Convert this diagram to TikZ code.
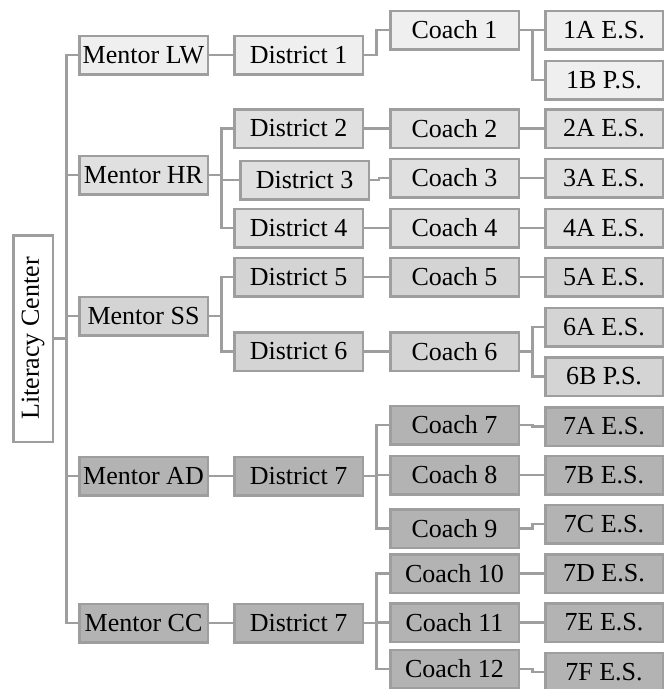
\documentclass[tikz,border=0pt]{standalone}
\usepackage{fontspec}
\setmainfont{Liberation Serif}
\definecolor{edgegray}{HTML}{9E9E9E}
\definecolor{fillA}{HTML}{EFEFEF}
\definecolor{fillB}{HTML}{E0E0E0}
\definecolor{fillC}{HTML}{D4D4D4}
\definecolor{fillD}{HTML}{B3B3B3}
\tikzset{
  box/.style={draw=edgegray, line width=2.5pt, minimum width=128.5pt, minimum height=38.5pt,
    inner sep=0pt, font=\fontsize{26}{30}\selectfont},
  school/.style={box, minimum width=117.5pt},
  link/.style={draw=edgegray, line width=2.5pt},
  elbow/.style={to path={-- ([xshift=#1]\tikztostart) |- (\tikztotarget)}},
  elbow/.default=12.5pt
}
\begin{document}
\begin{tikzpicture}[x=1pt,y=-1pt]
\useasboundingbox (0,0) rectangle (665,689);

% root
\node[box, fill=white, rotate=90, minimum width=206.5pt, minimum height=39.5pt] (lit) at (33,338.5) {Literacy Center};

% mentors
\node[box, fill=fillA] (mLW) at (143.5,55) {Mentor LW};
\node[box, fill=fillB] (mHR) at (143.5,175) {Mentor HR};
\node[box, fill=fillC] (mSS) at (143.5,316) {Mentor SS};
\node[box, fill=fillD] (mAD) at (143.5,476) {Mentor AD};
\node[box, fill=fillD] (mCC) at (143.5,623) {Mentor CC};

% districts
\node[box, fill=fillA] (d1) at (298.5,55) {District 1};
\node[box, fill=fillB] (d2) at (298.5,128.5) {District 2};
\node[box, fill=fillB] (d3) at (304.5,180) {District 3};
\node[box, fill=fillB] (d4) at (298.5,228) {District 4};
\node[box, fill=fillC] (d5) at (298.5,277) {District 5};
\node[box, fill=fillC] (d6) at (298.5,351.5) {District 6};
\node[box, fill=fillD] (d7a) at (298.5,476) {District 7};
\node[box, fill=fillD] (d7b) at (298.5,623) {District 7};

% coaches
\node[box, fill=fillA] (c1) at (454.5,30) {Coach 1};
\node[box, fill=fillB] (c2) at (454.5,128.5) {Coach 2};
\node[box, fill=fillB] (c3) at (454.5,178) {Coach 3};
\node[box, fill=fillB] (c4) at (454.5,228) {Coach 4};
\node[box, fill=fillC] (c5) at (454.5,277) {Coach 5};
\node[box, fill=fillC] (c6) at (454.5,351.5) {Coach 6};
\node[box, fill=fillD] (c7) at (454.5,425) {Coach 7};
\node[box, fill=fillD] (c8) at (454.5,475) {Coach 8};
\node[box, fill=fillD] (c9) at (454.5,528.5) {Coach 9};
\node[box, fill=fillD] (c10) at (454.5,573.5) {Coach 10};
\node[box, fill=fillD] (c11) at (454.5,622.5) {Coach 11};
\node[box, fill=fillD] (c12) at (454.5,669) {Coach 12};

% schools
\node[school, fill=fillA] (s1a) at (604,30) {1A E.S.};
\node[school, fill=fillA] (s1b) at (604,80) {1B P.S.};
\node[school, fill=fillB] (s2a) at (604,128.5) {2A E.S.};
\node[school, fill=fillB] (s3a) at (604,178) {3A E.S.};
\node[school, fill=fillB] (s4a) at (604,228) {4A E.S.};
\node[school, fill=fillC] (s5a) at (604,277) {5A E.S.};
\node[school, fill=fillC] (s6a) at (604,327) {6A E.S.};
\node[school, fill=fillC] (s6b) at (604,376.5) {6B P.S.};
\node[school, fill=fillD] (s7a) at (604,426.5) {7A E.S.};
\node[school, fill=fillD] (s7b) at (604,475) {7B E.S.};
\node[school, fill=fillD] (s7c) at (604,524) {7C E.S.};
\node[school, fill=fillD] (s7d) at (604,573.5) {7D E.S.};
\node[school, fill=fillD] (s7e) at (604,622.5) {7E E.S.};
\node[school, fill=fillD] (s7f) at (604,672) {7F E.S.};

% root to mentors
\foreach \m in {mLW,mHR,mSS,mAD,mCC}
  \draw[link] (lit.south) to[elbow] (\m.west);

% mentors to districts
\draw[link] (mLW.east) to[elbow] (d1.west);
\foreach \d in {d2,d3,d4}
  \draw[link] (mHR.east) to[elbow] (\d.west);
\foreach \d in {d5,d6}
  \draw[link] (mSS.east) to[elbow] (\d.west);
\draw[link] (mAD.east) to[elbow] (d7a.west);
\draw[link] (mCC.east) to[elbow] (d7b.west);

% districts to coaches
\draw[link] (d1.east) to[elbow] (c1.west);
\draw[link] (d2.east) to[elbow] (c2.west);
\draw[link] (d3.east) to[elbow=9pt] (c3.west);
\draw[link] (d4.east) to[elbow] (c4.west);
\draw[link] (d5.east) to[elbow] (c5.west);
\draw[link] (d6.east) to[elbow] (c6.west);
\foreach \c in {c7,c8,c9}
  \draw[link] (d7a.east) to[elbow] (\c.west);
\foreach \c in {c10,c11,c12}
  \draw[link] (d7b.east) to[elbow] (\c.west);

% coaches to schools
\foreach \s in {s1a,s1b}
  \draw[link] (c1.east) to[elbow] (\s.west);
\draw[link] (c2.east) to[elbow] (s2a.west);
\draw[link] (c3.east) to[elbow] (s3a.west);
\draw[link] (c4.east) to[elbow] (s4a.west);
\draw[link] (c5.east) to[elbow] (s5a.west);
\foreach \s in {s6a,s6b}
  \draw[link] (c6.east) to[elbow] (\s.west);
\draw[link] (c7.east) to[elbow] (s7a.west);
\draw[link] (c8.east) to[elbow] (s7b.west);
\draw[link] (c9.east) to[elbow] (s7c.west);
\draw[link] (c10.east) to[elbow] (s7d.west);
\draw[link] (c11.east) to[elbow] (s7e.west);
\draw[link] (c12.east) to[elbow] (s7f.west);
\end{tikzpicture}
\end{document}
